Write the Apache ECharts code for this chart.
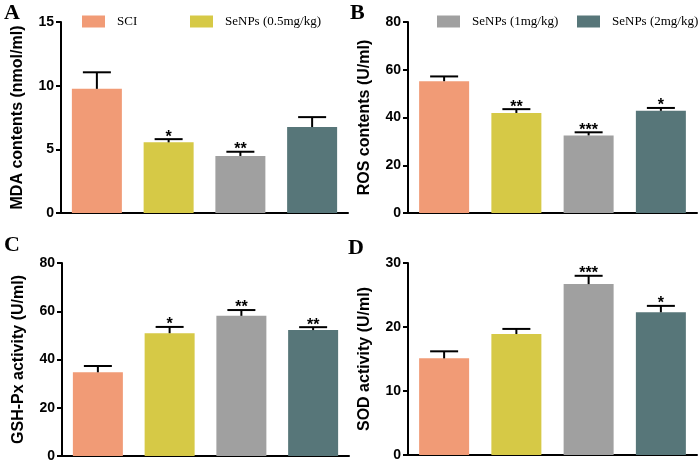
<!DOCTYPE html>
<html><head><meta charset="utf-8">
<script src="https://cdn.jsdelivr.net/npm/echarts@6/dist/echarts.min.js"></script>
<style>html,body{margin:0;padding:0;background:#fff}#c{width:700px;height:465px}</style>
</head><body><div id="c"></div>
<script>
const groups = ['SCI', 'SeNPs (0.5mg/kg)', 'SeNPs (1mg/kg)', 'SeNPs (2mg/kg)'];
const groupColors = ['#F19B76', '#D6C946', '#A0A0A0', '#577679'];

const mdaValues = [9.75, 5.55, 4.48, 6.75];
const mdaErrors = [1.3, 0.25, 0.33, 0.78];
const mdaStars = ['', '*', '**', ''];

const rosValues = [55.2, 41.9, 32.5, 42.8];
const rosErrors = [2.0, 1.6, 1.3, 1.2];
const rosStars = ['', '**', '***', '*'];

const gshValues = [34.7, 50.9, 58.1, 52.2];
const gshErrors = [2.6, 2.6, 2.4, 1.2];
const gshStars = ['', '*', '**', '**'];

const sodValues = [15.1, 18.9, 26.7, 22.3];
const sodErrors = [1.1, 0.8, 1.3, 1.0];
const sodStars = ['', '', '***', '*'];

const panelLetters = ['A', 'B', 'C', 'D'];
const panelTitles = ['MDA contents (nmol/ml)', 'ROS contents (U/ml)', 'GSH-Px activity (U/ml)', 'SOD activity (U/ml)'];
const panelMax = [15, 80, 80, 30];
const panelInterval = [5, 20, 20, 10];

const panels = [
  {values: mdaValues, errors: mdaErrors, stars: mdaStars},
  {values: rosValues, errors: rosErrors, stars: rosStars},
  {values: gshValues, errors: gshErrors, stars: gshStars},
  {values: sodValues, errors: sodErrors, stars: sodStars}
];

const grids = [
  {left: 61, top: 22, width: 287, height: 191},
  {left: 408, top: 22, width: 289, height: 191},
  {left: 62, top: 263, width: 287, height: 193},
  {left: 408, top: 263, width: 289, height: 192}
];
const letterPos = [[4, 2], [350, 2], [4, 234], [348, 237]];

const chart = echarts.init(document.getElementById('c'), null, {renderer: 'canvas'});

function errRender(stars) {
  return function (params, api) {
    const i = api.value(0);
    const v = api.value(1), e = api.value(2);
    const top = api.coord([i, v]);
    const cap = api.coord([i, v + e]);
    const hw = 14;
    const children = [
      {type: 'line', shape: {x1: top[0], y1: top[1], x2: cap[0], y2: cap[1]}, style: {stroke: '#000', lineWidth: 2}},
      {type: 'line', shape: {x1: cap[0] - hw, y1: cap[1], x2: cap[0] + hw, y2: cap[1]}, style: {stroke: '#000', lineWidth: 2}}
    ];
    const s = stars[i];
    if (s) {
      children.push({type: 'text', x: cap[0], y: cap[1] + 6,
        style: {text: s, fill: '#000', font: 'bold 16px "Liberation Sans", Arial', align: 'center', verticalAlign: 'bottom'}});
    }
    return {type: 'group', children: children};
  };
}

const xAxes = [], yAxes = [], series = [], graphics = [];
panels.forEach(function (p, k) {
  xAxes.push({
    type: 'category', gridIndex: k, data: groups,
    axisLine: {lineStyle: {color: '#000', width: 2}},
    axisTick: {alignWithLabel: true, length: 6, lineStyle: {color: '#000', width: 2}},
    axisLabel: {show: false}
  });
  yAxes.push({
    type: 'value', gridIndex: k, min: 0, max: panelMax[k], interval: panelInterval[k],
    name: panelTitles[k], nameLocation: 'middle', nameGap: 35, nameRotate: 90,
    nameTextStyle: {fontFamily: 'Liberation Sans', fontWeight: 'bold', fontSize: 16, color: '#000'},
    axisLine: {show: true, lineStyle: {color: '#000', width: 2}},
    axisTick: {show: true, length: 5, lineStyle: {color: '#000', width: 2}},
    axisLabel: {fontFamily: 'Liberation Sans', fontWeight: 'bold', fontSize: 14, color: '#000', margin: 7},
    splitLine: {show: false}
  });
  groups.forEach(function (g, j) {
    const d = p.values.map(function (v, i) { return i === j ? v : null; });
    series.push({
      type: 'bar', name: g, xAxisIndex: k, yAxisIndex: k, data: d,
      barWidth: 50, barGap: '-100%', itemStyle: {color: groupColors[j]},
      emphasis: {disabled: true}, animation: false
    });
  });
  series.push({
    type: 'custom', xAxisIndex: k, yAxisIndex: k, z: 10,
    data: p.values.map(function (v, i) { return [i, v, p.errors[i]]; }),
    encode: {x: 0, y: 1},
    renderItem: errRender(p.stars), animation: false, silent: true
  });
  graphics.push({type: 'text', left: letterPos[k][0], top: letterPos[k][1],
    style: {text: panelLetters[k], fill: '#000', font: 'bold 22px "Liberation Serif", serif'}});
});

const legendBase = {
  orient: 'horizontal', padding: 0, itemWidth: 23, itemHeight: 12, icon: 'rect',
  textStyle: {fontFamily: 'Liberation Serif', fontSize: 13, color: '#000', padding: [0, 0, 0, 7]},
  selectedMode: false
};
const legendLefts = [82, 190, 437, 577];
const legends = groups.map(function (g, j) {
  return Object.assign({}, legendBase, {data: [g], left: legendLefts[j], top: 15});
});

chart.setOption({
  animation: false,
  grid: grids,
  xAxis: xAxes,
  yAxis: yAxes,
  legend: legends,
  series: series,
  graphic: graphics
});
</script>
</body></html>
